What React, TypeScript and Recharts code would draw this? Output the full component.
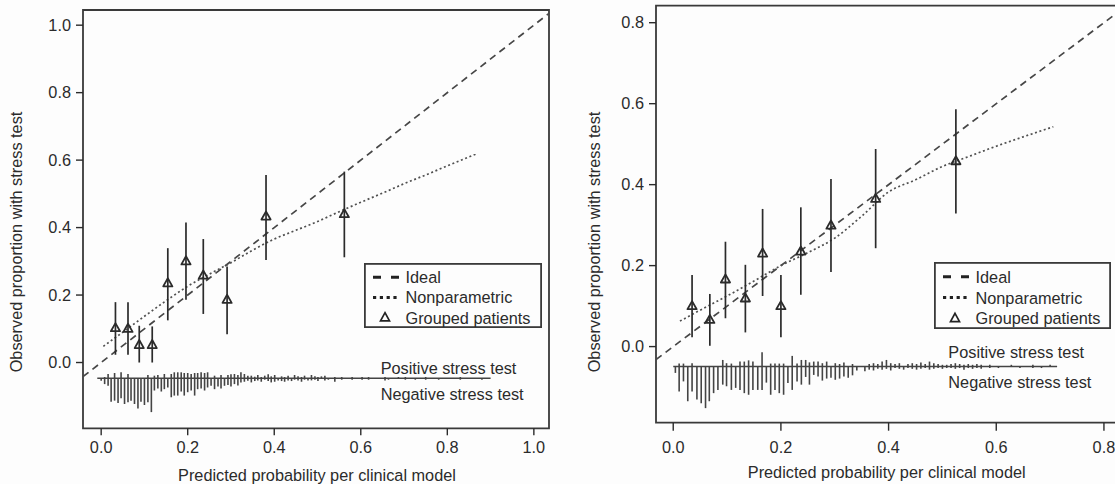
import React from 'react';
import {
  ComposedChart,
  ErrorBar,
  Line,
  ReferenceArea,
  ReferenceDot,
  Scatter,
  XAxis,
  YAxis,
} from 'recharts';

const FONT = '"Liberation Sans", Arial, Helvetica, sans-serif';
const INK = '#2b2b2b';
const FS = 16.3;

const xTitle = 'Predicted probability per clinical model';
const yTitle = 'Observed proportion with stress test';
const legendLabels = ['Ideal', 'Nonparametric', 'Grouped patients'];
const spikeLabels = ['Positive stress test', 'Negative stress test'];

// ---- left panel ----
const leftXTicks = [0, 0.2, 0.4, 0.6, 0.8, 1.0];
const leftYTicks = [0, 0.2, 0.4, 0.6, 0.8, 1.0];

const leftGroupX = [0.033, 0.062, 0.088, 0.118, 0.154, 0.196, 0.236, 0.291, 0.381, 0.562];
const leftGroupY = [0.102, 0.1, 0.052, 0.052, 0.235, 0.3, 0.258, 0.186, 0.433, 0.44];
const leftGroupLo = [0.023, 0.023, 0.0, 0.0, 0.125, 0.186, 0.144, 0.084, 0.304, 0.312];
const leftGroupHi = [0.179, 0.179, 0.109, 0.107, 0.339, 0.415, 0.366, 0.285, 0.556, 0.566];

const leftSmoothX = [0.005, 0.05, 0.1, 0.15, 0.2, 0.25, 0.3, 0.35, 0.4, 0.45, 0.5, 0.55, 0.6, 0.65, 0.7, 0.75, 0.8, 0.868];
const leftSmoothY = [0.048, 0.09, 0.137, 0.183, 0.226, 0.262, 0.296, 0.333, 0.366, 0.392, 0.418, 0.447, 0.475, 0.502, 0.53, 0.556, 0.583, 0.619];

const leftSpikeX = [
  0.0, 0.008, 0.016, 0.023, 0.031, 0.039, 0.046, 0.054, 0.062, 0.069, 0.077, 0.085, 0.092, 0.1, 0.108,
  0.116, 0.123, 0.131, 0.139, 0.146, 0.154, 0.162, 0.169, 0.177, 0.185, 0.192, 0.2, 0.208, 0.216, 0.223,
  0.231, 0.239, 0.246, 0.254, 0.262, 0.27, 0.277, 0.285, 0.293, 0.3, 0.308, 0.316, 0.323, 0.331, 0.339,
  0.347, 0.355, 0.362, 0.37, 0.378, 0.386, 0.393, 0.401, 0.409, 0.417, 0.424, 0.432, 0.44, 0.447, 0.455,
  0.463, 0.47, 0.478, 0.486, 0.494, 0.501, 0.509, 0.517, 0.525, 0.54, 0.556, 0.58, 0.603, 0.618, 0.656,
  0.664, 0.687, 0.703, 0.726, 0.75, 0.78, 0.83, 0.88,
];
const leftSpikePos = [
  0, 0.004, 0.013, 0, 0.016, 0, 0.018, 0, 0.013, 0, 0, 0, 0, 0, 0.01,
  0, 0.008, 0.01, 0, 0.013, 0, 0.013, 0.018, 0.018, 0.018, 0.016, 0.016, 0.013, 0.016, 0.016,
  0.018, 0.016, 0.018, 0, 0.008, 0, 0.01, 0, 0.01, 0.012, 0.013, 0.01, 0.018, 0.013, 0.008,
  0.008, 0.005, 0.01, 0.004, 0.008, 0.012, 0.006, 0.01, 0, 0.006, 0.004, 0.008, 0, 0.01, 0.006,
  0.004, 0.008, 0, 0.01, 0.006, 0.004, 0.006, 0.008, 0, 0.004, 0.004, 0.004, 0.004, 0.004, 0.004,
  0, 0.004, 0.004, 0, 0.004, 0, 0.004, 0,
];
const leftSpikeNeg = [
  0.007, 0.017, 0.022, 0.069, 0.066, 0.073, 0.059, 0.076, 0.071, 0.066, 0.076, 0.089, 0.069, 0.079, 0.071,
  0.1, 0.036, 0.03, 0.039, 0.032, 0.027, 0.056, 0.051, 0.051, 0.039, 0.051, 0.041, 0.036, 0.051, 0.032,
  0.03, 0.036, 0.027, 0.022, 0.032, 0.024, 0.03, 0.022, 0.02, 0.024, 0.017, 0.021, 0.012, 0.01, 0.007,
  0.012, 0.008, 0.006, 0.01, 0.004, 0.008, 0.012, 0.01, 0.006, 0.008, 0.01, 0.006, 0.008, 0.004, 0.006,
  0.01, 0.004, 0.006, 0.006, 0.004, 0.008, 0, 0.006, 0.004, 0.01, 0.004, 0.004, 0.004, 0.004, 0.006,
  0.004, 0, 0.004, 0.004, 0.004, 0.004, 0.004, 0.004,
];

// ---- right panel ----
const rightXTicks = [0, 0.2, 0.4, 0.6, 0.8];
const rightYTicks = [0, 0.2, 0.4, 0.6, 0.8];

const rightGroupX = [0.035, 0.068, 0.097, 0.134, 0.166, 0.2, 0.237, 0.293, 0.376, 0.525];
const rightGroupY = [0.1, 0.066, 0.166, 0.119, 0.23, 0.1, 0.235, 0.299, 0.365, 0.458];
const rightGroupLo = [0.023, 0.002, 0.07, 0.035, 0.125, 0.023, 0.128, 0.184, 0.243, 0.329];
const rightGroupHi = [0.177, 0.13, 0.259, 0.202, 0.34, 0.177, 0.344, 0.414, 0.488, 0.586];

const rightSmoothX = [0.0125, 0.05, 0.1, 0.15, 0.2, 0.25, 0.3, 0.35, 0.4, 0.45, 0.5, 0.55, 0.6, 0.65, 0.706];
const rightSmoothY = [0.063, 0.09, 0.125, 0.162, 0.2, 0.232, 0.268, 0.322, 0.382, 0.412, 0.445, 0.47, 0.495, 0.518, 0.543];

const rightSpikeX = [
  0.004, 0.011, 0.019, 0.027, 0.035, 0.044, 0.052, 0.06, 0.067, 0.075, 0.083, 0.092, 0.099, 0.108, 0.116,
  0.124, 0.132, 0.14, 0.148, 0.157, 0.165, 0.173, 0.181, 0.189, 0.197, 0.205, 0.213, 0.221, 0.23, 0.238,
  0.246, 0.253, 0.261, 0.269, 0.277, 0.285, 0.293, 0.301, 0.309, 0.317, 0.325, 0.333, 0.341, 0.356, 0.364,
  0.372, 0.38, 0.388, 0.396, 0.404, 0.412, 0.42, 0.428, 0.436, 0.444, 0.452, 0.46, 0.468, 0.476, 0.484,
  0.492, 0.5, 0.508, 0.516, 0.524, 0.532, 0.54, 0.548, 0.556, 0.564, 0.572, 0.588, 0.604, 0.628, 0.644,
  0.668, 0.684, 0.7,
];
const rightSpikePos = [
  0, 0.007, 0.007, 0, 0.008, 0, 0, 0, 0, 0, 0, 0.016, 0.008, 0.007, 0,
  0.012, 0.012, 0.015, 0.012, 0, 0.035, 0, 0.007, 0.007, 0.007, 0.007, 0, 0.026, 0.007, 0.016,
  0.016, 0.01, 0.012, 0.012, 0.008, 0.012, 0, 0.008, 0.006, 0.01, 0, 0.006, 0, 0, 0.006,
  0.008, 0.006, 0.012, 0.016, 0.008, 0.006, 0.008, 0, 0.006, 0.008, 0.006, 0.01, 0.006, 0.012, 0.008,
  0.006, 0.004, 0.004, 0.006, 0.008, 0.006, 0.004, 0.006, 0.004, 0.006, 0.004, 0.004, 0, 0.004, 0,
  0.004, 0, 0.004,
];
const rightSpikeNeg = [
  0.016, 0.062, 0.037, 0.086, 0.062, 0.082, 0.091, 0.103, 0.086, 0.066, 0.058, 0.045, 0.049, 0.058, 0.053,
  0.058, 0.066, 0.07, 0.058, 0.058, 0.058, 0.04, 0.07, 0.058, 0.066, 0.07, 0.041, 0.058, 0.037, 0.045,
  0.026, 0.045, 0.021, 0.025, 0.035, 0.03, 0.028, 0.033, 0.03, 0.025, 0.028, 0.022, 0.01, 0.012, 0.008,
  0.01, 0.006, 0.008, 0.006, 0.01, 0.004, 0.006, 0.008, 0.004, 0.006, 0.008, 0.006, 0.004, 0.008, 0.006,
  0.004, 0.006, 0.004, 0.004, 0.006, 0.004, 0.008, 0.004, 0.006, 0.004, 0.006, 0.004, 0.004, 0, 0.004,
  0.004, 0.004, 0,
];

type Pt = { x: number; y: number; err?: [number, number] };

const toGroups = (xs: number[], ys: number[], lo: number[], hi: number[]): Pt[] =>
  xs.map((x, i) => ({ x, y: ys[i], err: [ys[i] - lo[i], hi[i] - ys[i]] }));
const toCurve = (xs: number[], ys: number[]): Pt[] => xs.map((x, i) => ({ x, y: ys[i] }));
const toSpikes = (xs: number[], pos: number[], neg: number[], base: number): Pt[] =>
  xs.map((x, i) => ({ x, y: base, err: [neg[i], pos[i]] }));

interface PanelSpec {
  left: number;
  width: number;
  margin: { top: number; right: number; bottom: number; left: number };
  yAxisWidth: number;
  xAxisHeight: number;
  xTickSize: number;
  xTickMargin: number;
  xDomain: [number, number];
  yDomain: [number, number];
  xTicks: number[];
  yTicks: number[];
  groups: Pt[];
  smooth: Pt[];
  spikes: Pt[];
  spikeBase: number;
  spikeSpan: [number, number];
  textX: number;
  textY: [number, number];
  xTitlePos: [number, number];
  yTitlePos: [number, number];
  legend: { left: number; top: number; width: number; height: number };
}

const LEFT_BASE = -0.047;
const RIGHT_BASE = -0.049;

const leftSpec: PanelSpec = {
  left: 0,
  width: 560,
  margin: { top: 10, right: 11, bottom: 0, left: 0 },
  yAxisWidth: 83,
  xAxisHeight: 55.7,
  xTickSize: 7,
  xTickMargin: 6,
  xDomain: [-0.042, 1.035],
  yDomain: [-0.195, 1.045],
  xTicks: leftXTicks,
  yTicks: leftYTicks,
  groups: toGroups(leftGroupX, leftGroupY, leftGroupLo, leftGroupHi),
  smooth: toCurve(leftSmoothX, leftSmoothY),
  spikes: toSpikes(leftSpikeX, leftSpikePos, leftSpikeNeg, LEFT_BASE),
  spikeBase: LEFT_BASE,
  spikeSpan: [-0.009, 0.9],
  textX: 0.646,
  textY: [-0.018, -0.094],
  xTitlePos: [317, 475],
  yTitlePos: [16, 242],
  legend: { left: 364, top: 263, width: 178, height: 65 },
};

const rightSpec: PanelSpec = {
  left: 560,
  width: 560,
  margin: { top: 5.7, right: 2.6, bottom: 0, left: 0 },
  yAxisWidth: 96,
  xAxisHeight: 61.3,
  xTickSize: 8,
  xTickMargin: 11,
  xDomain: [-0.032, 0.825],
  yDomain: [-0.188, 0.842],
  xTicks: rightXTicks,
  yTicks: rightYTicks,
  groups: toGroups(rightGroupX, rightGroupY, rightGroupLo, rightGroupHi),
  smooth: toCurve(rightSmoothX, rightSmoothY),
  spikes: toSpikes(rightSpikeX, rightSpikePos, rightSpikeNeg, RIGHT_BASE),
  spikeBase: RIGHT_BASE,
  spikeSpan: [0.0, 0.713],
  textX: 0.511,
  textY: [-0.015, -0.089],
  xTitlePos: [326.7, 472],
  yTitlePos: [34.4, 242],
  legend: { left: 934, top: 262, width: 177, height: 67 },
};

const triangle = (props: any) => {
  const { cx, cy } = props;
  if (cx == null || cy == null) return <g />;
  return (
    <path
      d={`M${cx},${cy - 5} L${cx + 4.6},${cy + 3.1} L${cx - 4.6},${cy + 3.1} Z`}
      fill="none"
      stroke={INK}
      strokeWidth={1.8}
      strokeLinejoin="round"
    />
  );
};

const noMark = () => <g />;

const textStyle = { fill: INK, fontSize: FS, fontFamily: FONT };

function CalibrationPanel({ spec }: { spec: PanelSpec }) {
  const [x0, x1] = spec.xDomain;
  const [y0, y1] = spec.yDomain;
  const ideal: Pt[] = [
    { x: x0, y: x0 },
    { x: x1, y: x1 },
  ];
  const baseLine: Pt[] = [
    { x: spec.spikeSpan[0], y: spec.spikeBase },
    { x: spec.spikeSpan[1], y: spec.spikeBase },
  ];

  return (
    <ComposedChart width={spec.width} height={484} margin={spec.margin}>
      <XAxis
        type="number"
        dataKey="x"
        domain={spec.xDomain}
        ticks={spec.xTicks}
        interval={0}
        allowDataOverflow
        height={spec.xAxisHeight}
        axisLine={false}
        tickLine={{ stroke: INK, strokeWidth: 1.4 }}
        tickSize={spec.xTickSize}
        tickMargin={spec.xTickMargin}
        tick={textStyle}
        tickFormatter={(v: number) => v.toFixed(1)}
        label={{
          content: () => (
            <text
              x={spec.xTitlePos[0]}
              y={spec.xTitlePos[1]}
              textAnchor="middle"
              dominantBaseline="central"
              {...textStyle}
            >
              {xTitle}
            </text>
          ),
        }}
      />
      <YAxis
        type="number"
        dataKey="y"
        domain={spec.yDomain}
        ticks={spec.yTicks}
        interval={0}
        allowDataOverflow
        width={spec.yAxisWidth}
        axisLine={false}
        tickLine={{ stroke: INK, strokeWidth: 1.4 }}
        tickSize={7}
        tickMargin={5}
        tick={textStyle}
        tickFormatter={(v: number) => v.toFixed(1)}
        label={{
          content: () => (
            <text
              x={spec.yTitlePos[0]}
              y={spec.yTitlePos[1]}
              textAnchor="middle"
              dominantBaseline="central"
              transform={`rotate(-90 ${spec.yTitlePos[0]} ${spec.yTitlePos[1]})`}
              {...textStyle}
            >
              {yTitle}
            </text>
          ),
        }}
      />
      <ReferenceArea
        x1={x0}
        x2={x1}
        y1={y0}
        y2={y1}
        fill="none"
        stroke="#3a3a3a"
        strokeWidth={1.8}
        ifOverflow="visible"
      />
      <Line
        data={ideal}
        dataKey="y"
        type="linear"
        stroke="#474747"
        strokeWidth={1.7}
        strokeDasharray="7 5"
        dot={false}
        activeDot={false}
        isAnimationActive={false}
      />
      <Line
        data={spec.smooth}
        dataKey="y"
        type="monotone"
        stroke="#505050"
        strokeWidth={1.7}
        strokeDasharray="2 2.6"
        dot={false}
        activeDot={false}
        isAnimationActive={false}
      />
      <Line
        data={baseLine}
        dataKey="y"
        type="linear"
        stroke="#444444"
        strokeWidth={1.5}
        dot={false}
        activeDot={false}
        isAnimationActive={false}
      />
      <Scatter data={spec.spikes} shape={noMark} isAnimationActive={false}>
        <ErrorBar dataKey="err" direction="y" width={0} stroke="#444444" strokeWidth={1.6} />
      </Scatter>
      <Scatter data={spec.groups} shape={triangle} isAnimationActive={false}>
        <ErrorBar dataKey="err" direction="y" width={0} stroke={INK} strokeWidth={1.7} />
      </Scatter>
      {spikeLabels.map((label, i) => (
        <ReferenceDot
          key={label}
          x={spec.textX}
          y={spec.textY[i]}
          r={0}
          fill="none"
          stroke="none"
          label={{ value: label, position: 'right', offset: 0, ...textStyle }}
        />
      ))}
    </ComposedChart>
  );
}

function KeyBox({ box }: { box: PanelSpec['legend'] }) {
  const rows = [14.5, 35, 55.5].map((r) => r * (box.height / 66));
  return (
    <svg
      style={{ position: 'absolute', left: box.left, top: box.top }}
      width={box.width}
      height={box.height}
    >
      <rect
        x={0.9}
        y={0.9}
        width={box.width - 1.8}
        height={box.height - 1.8}
        fill="#fdfdfd"
        stroke="#3a3a3a"
        strokeWidth={1.8}
      />
      <line x1={9} x2={35} y1={rows[0]} y2={rows[0]} stroke="#222" strokeWidth={3} strokeDasharray="8 10" />
      <line x1={9} x2={35} y1={rows[1]} y2={rows[1]} stroke="#222" strokeWidth={3} strokeDasharray="3.2 3.6" />
      <path
        d={`M21,${rows[2] - 5} L25.5,${rows[2] + 3.2} L16.5,${rows[2] + 3.2} Z`}
        fill="none"
        stroke="#222"
        strokeWidth={1.7}
      />
      {legendLabels.map((label, i) => (
        <text key={label} x={41.5} y={rows[i]} dominantBaseline="central" {...textStyle}>
          {label}
        </text>
      ))}
    </svg>
  );
}

export default function App() {
  return (
    <div
      style={{
        position: 'absolute',
        left: 0,
        top: 0,
        width: 1115,
        height: 484,
        overflow: 'hidden',
        background: '#fdfdfd',
        fontFamily: FONT,
      }}
    >
      {[leftSpec, rightSpec].map((spec) => (
        <div key={spec.left} style={{ position: 'absolute', left: spec.left, top: 0 }}>
          <CalibrationPanel spec={spec} />
        </div>
      ))}
      <KeyBox box={leftSpec.legend} />
      <KeyBox box={rightSpec.legend} />
    </div>
  );
}
